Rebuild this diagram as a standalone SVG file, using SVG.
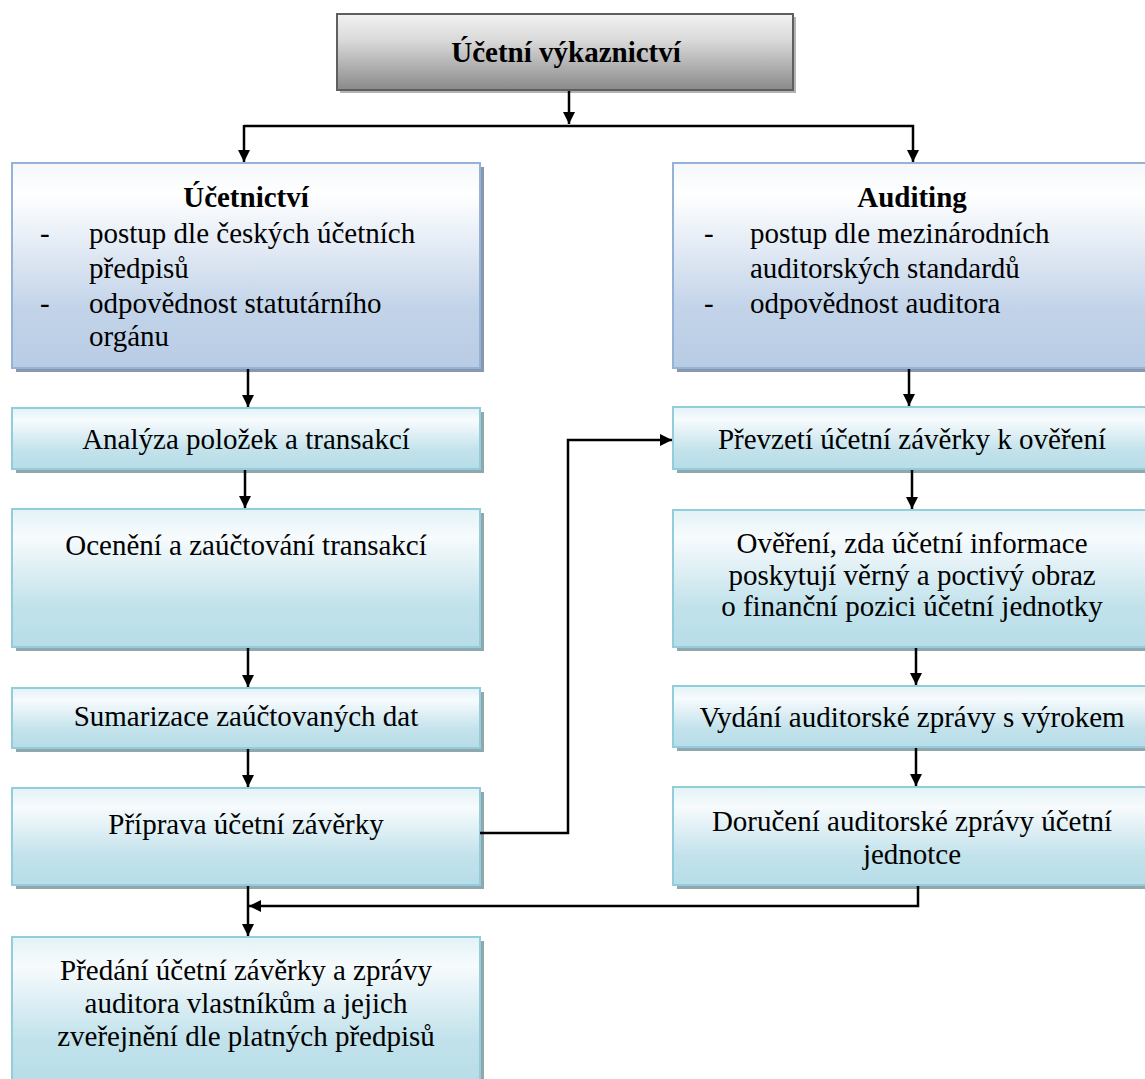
<svg xmlns="http://www.w3.org/2000/svg" width="1145" height="1079" viewBox="0 0 1145 1079">
  <style>
    .t { font-family: 'Liberation Serif', 'Times New Roman', Times, serif; font-size: 29px; fill: #000; }
    .c { text-anchor: middle; }
    .b { font-weight: bold; }
    .proc { fill: url(#gProc); stroke: #92cddc; stroke-width: 2; }
    .procShadow { fill: #8fa7ad; }
    .main { fill: url(#gMain); stroke: #95b3d7; stroke-width: 2; }
    .mainShadow { fill: #8797ad; }
    .conn { fill: none; stroke: #000; stroke-width: 2.5; }
  </style>
  <defs>
    <linearGradient id="gTop" x1="0" y1="0" x2="0" y2="1">
      <stop offset="0" stop-color="#f2f2f2"/>
      <stop offset="0.35" stop-color="#d9d9d9"/>
      <stop offset="1" stop-color="#8a8a8a"/>
    </linearGradient>
    <linearGradient id="gMain" x1="0" y1="0" x2="0" y2="1">
      <stop offset="0" stop-color="#f4f7fb"/>
      <stop offset="0.15" stop-color="#ffffff"/>
      <stop offset="0.7" stop-color="#c3d4e9"/>
      <stop offset="1" stop-color="#b8cce4"/>
    </linearGradient>
    <linearGradient id="gProc" x1="0" y1="0" x2="0" y2="1">
      <stop offset="0" stop-color="#e2f2f6"/>
      <stop offset="0.2" stop-color="#f7fbfd"/>
      <stop offset="0.7" stop-color="#c2e2eb"/>
      <stop offset="1" stop-color="#b7dde8"/>
    </linearGradient>
    <marker id="arrow" markerUnits="userSpaceOnUse" markerWidth="14" markerHeight="14" refX="12" refY="6" orient="auto">
      <path d="M0,0 L12,6 L0,12 z" fill="#000"/>
    </marker>
  </defs>

  <!-- title -->
  <g id="n-vykaznictvi">
    <rect x="340" y="17" width="456" height="76" fill="#b3b3b3"/>
    <rect x="337" y="14" width="456" height="76" fill="url(#gTop)" stroke="#5f5f5f" stroke-width="2"/>
    <text class="t b c" x="566" y="62">Účetní výkaznictví</text>
  </g>

  <!-- accounting branch -->
  <g id="n-ucetnictvi">
    <rect x="16" y="167" width="468" height="205" class="mainShadow"/>
    <rect x="12" y="163" width="468" height="205" class="main"/>
    <text class="t b c" x="246" y="207">Účetnictví</text>
    <text class="t" x="40" y="243">-</text>
    <text class="t" x="89" y="243">postup dle českých účetních</text>
    <text class="t" x="89" y="278">předpisů</text>
    <text class="t" x="40" y="313">-</text>
    <text class="t" x="89" y="313">odpovědnost statutárního</text>
    <text class="t" x="89" y="346">orgánu</text>
  </g>

  <g id="n-analyza">
    <rect x="16" y="412" width="468" height="61" class="procShadow"/>
    <rect x="12" y="408" width="468" height="61" class="proc"/>
    <text class="t c" x="246" y="449">Analýza položek a transakcí</text>
  </g>

  <g id="n-oceneni">
    <rect x="16" y="513" width="468" height="138" class="procShadow"/>
    <rect x="12" y="509" width="468" height="138" class="proc"/>
    <text class="t c" x="246" y="555">Ocenění a zaúčtování transakcí</text>
  </g>

  <g id="n-sumarizace">
    <rect x="16" y="692" width="468" height="60" class="procShadow"/>
    <rect x="12" y="688" width="468" height="60" class="proc"/>
    <text class="t c" x="246" y="726">Sumarizace zaúčtovaných dat</text>
  </g>

  <g id="n-priprava">
    <rect x="16" y="792" width="468" height="97" class="procShadow"/>
    <rect x="12" y="788" width="468" height="97" class="proc"/>
    <text class="t c" x="246" y="834">Příprava účetní závěrky</text>
  </g>

  <g id="n-predani">
    <rect x="16" y="941" width="468" height="145" class="procShadow"/>
    <rect x="12" y="937" width="468" height="145" class="proc"/>
    <text class="t c" x="246" y="980">Předání účetní závěrky a zprávy</text>
    <text class="t c" x="246" y="1013">auditora vlastníkům a jejich</text>
    <text class="t c" x="246" y="1046">zveřejnění dle platných předpisů</text>
  </g>

  <!-- audit branch -->
  <g id="n-auditing">
    <rect x="677" y="167" width="478" height="205" class="mainShadow"/>
    <rect x="673" y="163" width="478" height="205" class="main"/>
    <text class="t b c" x="912" y="207">Auditing</text>
    <text class="t" x="704" y="243">-</text>
    <text class="t" x="750" y="243">postup dle mezinárodních</text>
    <text class="t" x="750" y="278">auditorských standardů</text>
    <text class="t" x="704" y="313">-</text>
    <text class="t" x="750" y="313">odpovědnost auditora</text>
  </g>

  <g id="n-prevzeti">
    <rect x="677" y="411" width="478" height="62" class="procShadow"/>
    <rect x="673" y="407" width="478" height="62" class="proc"/>
    <text class="t c" x="912" y="449">Převzetí účetní závěrky k ověření</text>
  </g>

  <g id="n-overeni">
    <rect x="677" y="514" width="478" height="137" class="procShadow"/>
    <rect x="673" y="510" width="478" height="137" class="proc"/>
    <text class="t c" x="912" y="553">Ověření, zda účetní informace</text>
    <text class="t c" x="912" y="585">poskytují věrný a poctivý obraz</text>
    <text class="t c" x="912" y="616">o finanční pozici účetní jednotky</text>
  </g>

  <g id="n-vydani">
    <rect x="677" y="690" width="478" height="61" class="procShadow"/>
    <rect x="673" y="686" width="478" height="61" class="proc"/>
    <text class="t c" x="912" y="727">Vydání auditorské zprávy s výrokem</text>
  </g>

  <g id="n-doruceni">
    <rect x="677" y="791" width="478" height="98" class="procShadow"/>
    <rect x="673" y="787" width="478" height="98" class="proc"/>
    <text class="t c" x="912" y="831">Doručení auditorské zprávy účetní</text>
    <text class="t c" x="912" y="864">jednotce</text>
  </g>

  <!-- connectors -->
  <g id="connectors">
    <path class="conn" d="M569,91 V124" marker-end="url(#arrow)"/>
    <path class="conn" d="M244,126 H913 V162" marker-end="url(#arrow)"/>
    <path class="conn" d="M244,125 V162" marker-end="url(#arrow)"/>

    <path class="conn" d="M248,369 V407" marker-end="url(#arrow)"/>
    <path class="conn" d="M245,470 V508" marker-end="url(#arrow)"/>
    <path class="conn" d="M248,648 V687" marker-end="url(#arrow)"/>
    <path class="conn" d="M248,749 V787" marker-end="url(#arrow)"/>
    <path class="conn" d="M248,886 V936" marker-end="url(#arrow)"/>

    <path class="conn" d="M909,369 V406" marker-end="url(#arrow)"/>
    <path class="conn" d="M912,470 V509" marker-end="url(#arrow)"/>
    <path class="conn" d="M916,648 V685" marker-end="url(#arrow)"/>
    <path class="conn" d="M916,748 V786" marker-end="url(#arrow)"/>

    <path class="conn" d="M480,833 H568 V440 H672" marker-end="url(#arrow)"/>
    <path class="conn" d="M918,886 V906 H249" marker-end="url(#arrow)"/>
  </g>
</svg>
